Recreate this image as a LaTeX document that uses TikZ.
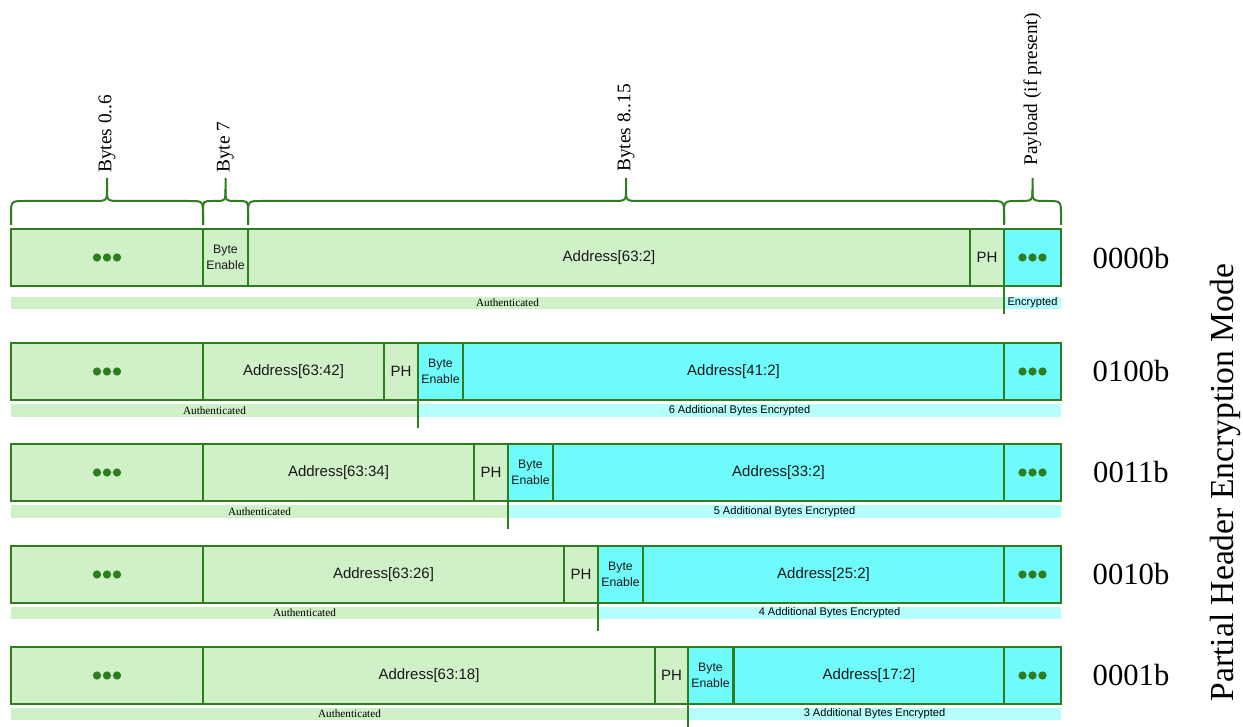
\documentclass[tikz,border=0pt]{standalone}
\usepackage{fontspec}
\setmainfont{Liberation Serif}
\setsansfont{Liberation Sans}
\definecolor{lg}{HTML}{D0F0C8}
\definecolor{cy}{HTML}{6FFBFB}
\definecolor{lcy}{HTML}{B5FFFF}
\definecolor{dg}{HTML}{2E7D1F}
\tikzset{
  cellline/.style={draw=dg, line width=1.5pt},
  celltext/.style={inner sep=0pt, font=\sffamily\fontsize{11.25}{13.5}\selectfont, text=black!90},
  betext/.style={inner sep=0pt, align=center, font=\sffamily\fontsize{9.2}{12.5}\selectfont, text=black!90},
  authtext/.style={inner sep=0pt, font=\fontsize{8.4}{10}\selectfont},
  enctext/.style={inner sep=0pt, font=\sffamily\fontsize{8.3}{10}\selectfont},
  bracel/.style={draw=dg, line width=1.5pt},
  bracetext/.style={inner sep=0pt, rotate=90, anchor=west, font=\fontsize{14.5}{17}\selectfont},
  codetext/.style={inner sep=0pt, font=\fontsize{23}{27}\selectfont},
  divline/.style={draw=dg, line width=1.2pt},
  dot/.style={fill=dg}
}
% name, x1, x2, ytop, fill, text
\newcommand{\pcell}[6]{%
  \draw[cellline, fill=#5] (#2,#4) rectangle (#3,{#4+57});
  \node[celltext] (#1) at ({(#2+#3)/2},{#4+28.5}) {#6};}
\newcommand{\pbecell}[4]{%
  \draw[cellline, fill=#4] (#2,#3) rectangle ({#2+45},{#3+57});
  \node[betext] (#1) at ({#2+22.5},{#3+28.5}) {Byte\\Enable};}
% brace: x1, x2, r
\newcommand{\pbrace}[3]{%
  \draw[bracel] (#1,225) -- (#1,{201+#3}) .. controls (#1,201) .. ({#1+#3},201)
     -- ({(#1+#2)/2-#3},201) .. controls ({(#1+#2)/2},201) .. ({(#1+#2)/2},189) -- ({(#1+#2)/2},178);
  \draw[bracel] (#2,225) -- (#2,{201+#3}) .. controls (#2,201) .. ({#2-#3},201)
     -- ({(#1+#2)/2+#3},201) .. controls ({(#1+#2)/2},201) .. ({(#1+#2)/2},189);}
\newcommand{\pthreedots}[3]{%
  \node[inner sep=0pt, minimum size=0pt] (#1) at (#2,#3) {};
  \fill[dot] ([xshift=-7.5pt]#1.center) circle (3.1pt);
  \fill[dot] (#1.center) circle (3.1pt);
  \fill[dot] ([xshift=7.5pt]#1.center) circle (3.1pt);}
\begin{document}
\begin{tikzpicture}[x=0.75pt,y=-0.75pt]
\useasboundingbox (0,0) rectangle (1243,727);

% braces
\pbrace{11}{203}{14}
\pbrace{203}{248}{10}
\pbrace{248}{1004}{14}
\pbrace{1004}{1061}{14}
\node[bracetext] (lb1) at (107,173) {Bytes 0..6};
\node[bracetext] (lb2) at (225.5,173) {Byte 7};
\node[bracetext] (lb3) at (626,172) {Bytes 8..15};
\node[bracetext] (lb4) at (1032.5,166) {Payload (if present)};

% ===== Row 1 : 0000b =====
\fill[lg] (11,297) rectangle (1004,309);
\fill[lcy] (1004,297) rectangle (1061,309);
\node[authtext] (a1) at (507.5,303) {Authenticated};
\node[enctext] (e1) at (1032.5,303) {Encrypted};
\draw[cellline, fill=lg] (11,229) rectangle (203,286);
\pthreedots{d1a}{107}{257.5}
\pbecell{be1}{203}{229}{lg}
\pcell{ad1}{248}{970}{229}{lg}{Address[63:2]}
\pcell{ph1}{970}{1004}{229}{lg}{PH}
\draw[cellline, fill=cy] (1004,229) rectangle (1061,286);
\pthreedots{d1b}{1032.5}{257.5}
\draw[divline] (1004,286) -- (1004,314);
\node[codetext] (c1) at (1131,258) {0000b};

% ===== Row 2 : 0100b =====
\fill[lg] (11,404) rectangle (418,417);
\fill[lcy] (418,404) rectangle (1061,417);
\node[authtext] (a2) at (214.5,410.5) {Authenticated};
\node[enctext] (e2) at (739.5,410.5) {6 Additional Bytes Encrypted};
\draw[cellline, fill=lg] (11,343) rectangle (203,400);
\pthreedots{d2a}{107}{371.5}
\pcell{ad2a}{203}{384}{343}{lg}{Address[63:42]}
\pcell{ph2}{384}{418}{343}{lg}{PH}
\pbecell{be2}{418}{343}{cy}
\pcell{ad2b}{463}{1004}{343}{cy}{Address[41:2]}
\draw[cellline, fill=cy] (1004,343) rectangle (1061,400);
\pthreedots{d2b}{1032.5}{371.5}
\draw[divline] (418,400) -- (418,428);
\node[codetext] (c2) at (1131,371.5) {0100b};

% ===== Row 3 : 0011b =====
\fill[lg] (11,505) rectangle (508,518);
\fill[lcy] (508,505) rectangle (1061,518);
\node[authtext] (a3) at (259.5,511.5) {Authenticated};
\node[enctext] (e3) at (784.5,511.5) {5 Additional Bytes Encrypted};
\draw[cellline, fill=lg] (11,444) rectangle (203,501);
\pthreedots{d3a}{107}{472.5}
\pcell{ad3a}{203}{474}{444}{lg}{Address[63:34]}
\pcell{ph3}{474}{508}{444}{lg}{PH}
\pbecell{be3}{508}{444}{cy}
\pcell{ad3b}{553}{1004}{444}{cy}{Address[33:2]}
\draw[cellline, fill=cy] (1004,444) rectangle (1061,501);
\pthreedots{d3b}{1032.5}{472.5}
\draw[divline] (508,501) -- (508,529);
\node[codetext] (c3) at (1131,472.5) {0011b};

% ===== Row 4 : 0010b =====
\fill[lg] (11,607) rectangle (598,619);
\fill[lcy] (598,607) rectangle (1061,619);
\node[authtext] (a4) at (304.5,613) {Authenticated};
\node[enctext] (e4) at (829.5,613) {4 Additional Bytes Encrypted};
\draw[cellline, fill=lg] (11,546) rectangle (203,603);
\pthreedots{d4a}{107}{574.5}
\pcell{ad4a}{203}{564}{546}{lg}{Address[63:26]}
\pcell{ph4}{564}{598}{546}{lg}{PH}
\pbecell{be4}{598}{546}{cy}
\pcell{ad4b}{643}{1004}{546}{cy}{Address[25:2]}
\draw[cellline, fill=cy] (1004,546) rectangle (1061,603);
\pthreedots{d4b}{1032.5}{574.5}
\draw[divline] (598,603) -- (598,631);
\node[codetext] (c4) at (1131,574.5) {0010b};

% ===== Row 5 : 0001b =====
\fill[lg] (11,708) rectangle (688,720);
\fill[lcy] (688,708) rectangle (1061,720);
\node[authtext] (a5) at (349.5,714) {Authenticated};
\node[enctext] (e5) at (874.5,714) {3 Additional Bytes Encrypted};
\draw[cellline, fill=lg] (11,647) rectangle (203,704);
\pthreedots{d5a}{107}{675.5}
\pcell{ad5a}{203}{655}{647}{lg}{Address[63:18]}
\pcell{ph5}{655}{688}{647}{lg}{PH}
\pbecell{be5}{688}{647}{cy}
\pcell{ad5b}{734}{1004}{647}{cy}{Address[17:2]}
\draw[cellline, fill=cy] (1004,647) rectangle (1061,704);
\pthreedots{d5b}{1032.5}{675.5}
\draw[divline] (688,704) -- (688,727);
\node[codetext] (c5) at (1131,675.5) {0001b};

% side label
\node[inner sep=0pt, rotate=90, font=\fontsize{25.2}{29}\selectfont] (mode) at (1225,482.5) {Partial Header Encryption Mode};
\end{tikzpicture}
\end{document}
